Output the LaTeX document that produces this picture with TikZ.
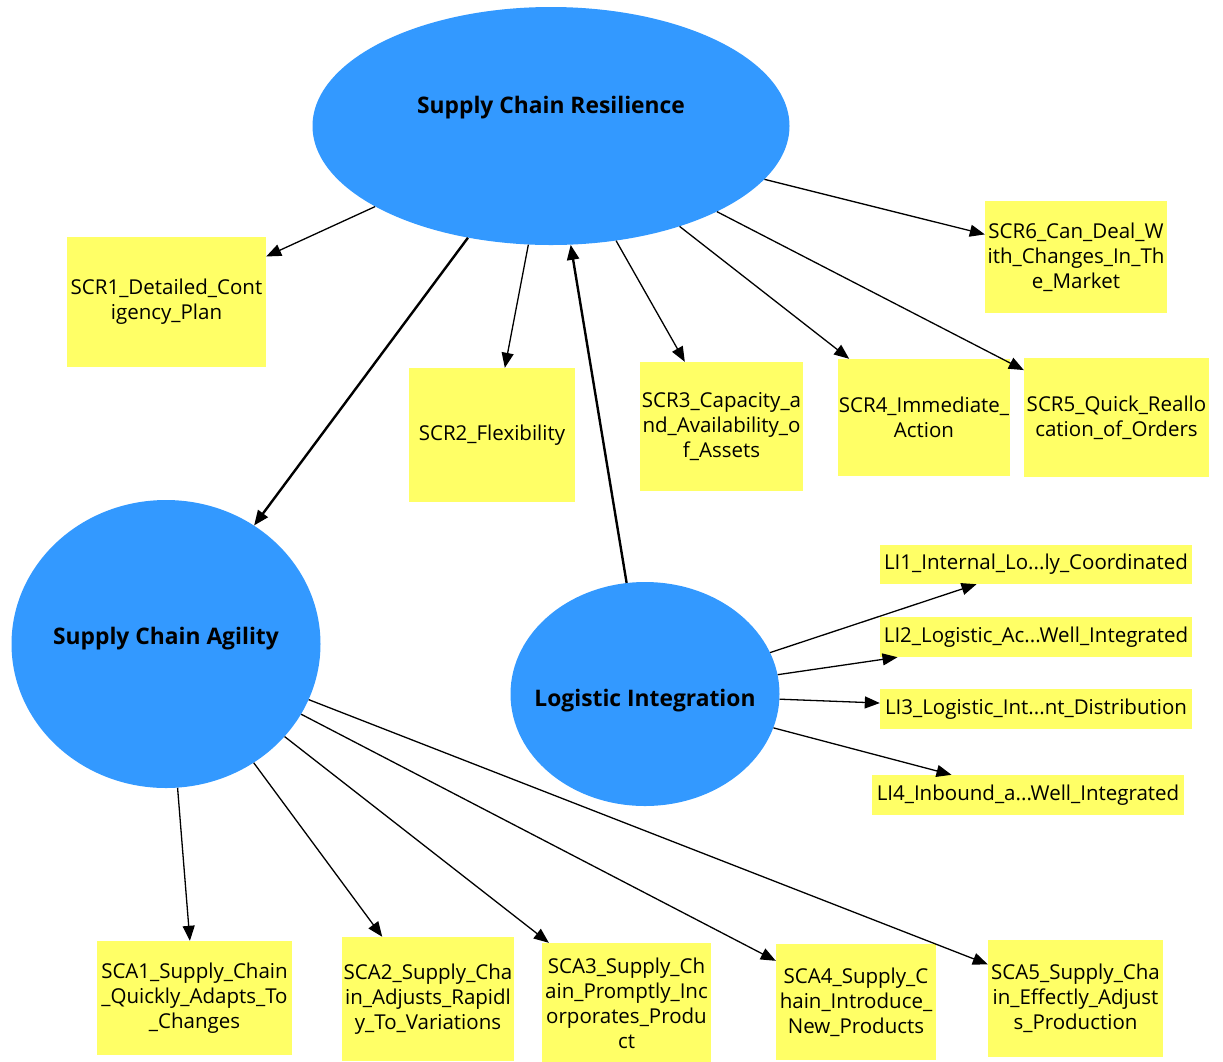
\documentclass[tikz,border=0pt]{standalone}
\usepackage{fontspec}
\setmainfont{Open Sans}
\usepackage{tikz}
\usetikzlibrary{shapes.geometric, arrows.meta}
\definecolor{latentblue}{HTML}{3399FF}
\definecolor{itemyellow}{HTML}{FFFF66}

\begin{document}
\begin{tikzpicture}[x=1pt, y=-1pt,
    latent/.style={ellipse, fill=latentblue, inner sep=0pt, inner xsep=-20pt, font=\fontsize{22.8}{26}\selectfont\bfseries},
    item/.style={rectangle, fill=itemyellow, inner sep=0pt, align=center, font=\fontsize{20.5}{25}\selectfont},
    load/.style={-{Triangle[length=15pt, width=12pt]}, line width=1.3pt},
    structural/.style={load, line width=2.4pt}]
    \useasboundingbox (0,0) rectangle (1223,1061);

    \node[latent, minimum width=477pt, minimum height=238pt, text height=12pt, text depth=38pt] (SCR) at (551,126) {Supply Chain Resilience};
    \node[latent, minimum width=309pt, minimum height=288pt, text height=12pt, text depth=12pt] (SCA) at (166,644) {Supply Chain Agility};
    \node[latent, minimum width=269pt, minimum height=224pt, text height=30pt, text depth=6pt] (LI) at (645,694) {Logistic Integration};

    \node[item, minimum width=199pt, minimum height=130pt] (SCR1) at (166.5,302) {SCR1\_Detailed\_Cont\\igency\_Plan};
    \node[item, minimum width=166pt, minimum height=134pt] (SCR2) at (492,435) {SCR2\_Flexibility};
    \node[item, minimum width=163pt, minimum height=129pt] (SCR3) at (721.5,426.5) {SCR3\_Capacity\_a\\nd\_Availability\_o\\f\_Assets};
    \node[item, minimum width=172pt, minimum height=117pt] (SCR4) at (924,417.5) {SCR4\_Immediate\_\\Action};
    \node[item, minimum width=185pt, minimum height=119pt] (SCR5) at (1116.5,417.5) {SCR5\_Quick\_Reallo\\cation\_of\_Orders};
    \node[item, minimum width=182pt, minimum height=112pt] (SCR6) at (1076,257) {SCR6\_Can\_Deal\_W\\ith\_Changes\_In\_Th\\e\_Market};

    \node[item, minimum width=312pt, minimum height=39pt] (LI1) at (1036,564.5) {LI1\_Internal\_Lo...ly\_Coordinated};
    \node[item, minimum width=312pt, minimum height=40pt] (LI2) at (1036,637) {LI2\_Logistic\_Ac...Well\_Integrated};
    \node[item, minimum width=312pt, minimum height=40pt] (LI3) at (1036,709) {LI3\_Logistic\_Int...nt\_Distribution};
    \node[item, minimum width=312pt, minimum height=40pt] (LI4) at (1028,795) {LI4\_Inbound\_a...Well\_Integrated};

    \node[item, minimum width=195pt, minimum height=114pt] (SCA1) at (194.5,998) {SCA1\_Supply\_Chain\\\_Quickly\_Adapts\_To\\\_Changes};
    \node[item, minimum width=172pt, minimum height=124pt] (SCA2) at (428,999) {SCA2\_Supply\_Cha\\in\_Adjusts\_Rapidl\\y\_To\_Variations};
    \node[item, minimum width=169pt, minimum height=121pt] (SCA3) at (626.5,1003.5) {SCA3\_Supply\_Ch\\ain\_Promptly\_Inc\\orporates\_Produ\\ct};
    \node[item, minimum width=160pt, minimum height=116pt] (SCA4) at (856,1002) {SCA4\_Supply\_C\\hain\_Introduce\_\\New\_Products};
    \node[item, minimum width=175pt, minimum height=117pt] (SCA5) at (1075.5,998.5) {SCA5\_Supply\_Cha\\in\_Effectly\_Adjust\\s\_Production};

    \draw[load] (SCR) -- (SCR1);
    \draw[load] (SCR) -- (SCR2);
    \draw[load] (SCR) -- (SCR3);
    \draw[load] (SCR) -- (SCR4);
    \draw[load] (SCR) -- (SCR5);
    \draw[load] (SCR) -- (SCR6);
    \draw[structural] (SCR) -- (SCA);
    \draw[structural] (LI) -- (SCR);

    \draw[load] (LI) -- (LI1);
    \draw[load] (LI) -- (LI2);
    \draw[load] (LI) -- (LI3);
    \draw[load] (LI) -- (LI4);

    \draw[load] (SCA) -- (SCA1);
    \draw[load] (SCA) -- (SCA2);
    \draw[load] (SCA) -- (SCA3);
    \draw[load] (SCA) -- (SCA4);
    \draw[load] (SCA) -- (SCA5);
\end{tikzpicture}
\end{document}
